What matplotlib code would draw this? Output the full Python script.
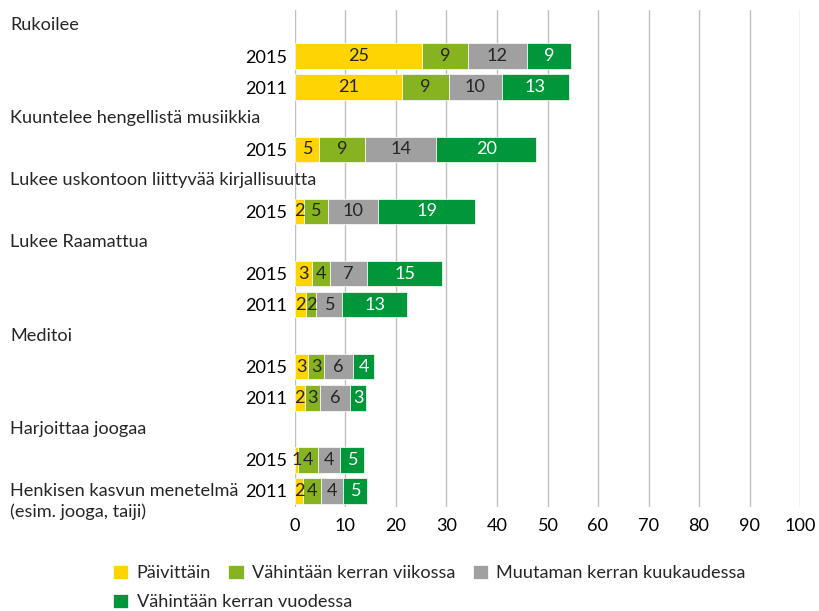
import numpy as np
import matplotlib
matplotlib.use('Agg')
import matplotlib.pyplot as plt
import matplotlib.transforms as mtransforms

plt.rcParams['font.family'] = ['Lato', 'DejaVu Sans']
plt.rcParams['font.size'] = 13.1
plt.rcParams['text.color'] = '#262626'

# group headers and the row (0 = top) where each one sits
headers = ['Rukoilee', 'Kuuntelee hengellistä musiikkia',
           'Lukee uskontoon liittyvää kirjallisuutta', 'Lukee Raamattua',
           'Meditoi', 'Harjoittaa joogaa']
header_rows = [0, 3, 5, 7, 10, 13]

# bars
years = ['2015', '2011', '2015', '2015', '2015', '2011', '2015', '2011', '2015', '2011']
bar_rows = [1, 2, 4, 6, 8, 9, 11, 12, 14, 15]
last_label = ['Henkisen kasvun menetelmä', '(esim. jooga, taiji)']

series_names = ['Päivittäin', 'Vähintään kerran viikossa',
                'Muutaman kerran kuukaudessa', 'Vähintään kerran vuodessa']
paivittain = [25.1, 21.1, 4.8, 1.7, 3.3, 2.1, 2.6, 1.9, 0.6, 1.6]
viikossa = [9.2, 9.4, 9.1, 4.8, 3.6, 2.1, 3.2, 3.0, 4.0, 3.6]
kuukaudessa = [11.6, 10.4, 14.0, 10.0, 7.3, 5.1, 5.7, 6.0, 4.4, 4.3]
vuodessa = [8.8, 13.4, 19.9, 19.1, 15.0, 12.9, 4.2, 3.2, 4.6, 4.75]

colors = ['#FFD400', '#86B31F', '#A0A0A0', '#00963A']
text_colors = ['#262626', '#262626', '#262626', 'white']

fig = plt.figure(figsize=(8.2, 6.11), dpi=100)
ax = fig.add_axes([295/820, 1 - 506.5/611, 505/820, 497/611])

series = [paivittain, viikossa, kuukaudessa, vuodessa]
left = np.zeros(len(bar_rows))
handles = []
for vals, c, tc, name in zip(series, colors, text_colors, series_names):
    vals = np.array(vals)
    bars = ax.barh(bar_rows, vals, left=left, height=0.82, color=c,
                   edgecolor='white', linewidth=0.5, zorder=3, label=name)
    handles.append(bars)
    for r, l, v in zip(bar_rows, left, vals):
        ax.text(l + v / 2, r, f'{v:.0f}', ha='center', va='center',
                color=tc, zorder=4)
    left += vals

ax.set_xlim(0, 100)
ax.set_ylim(15.5, -0.5)
ax.set_xticks(np.arange(0, 101, 10))
ax.set_yticks(bar_rows)
ax.set_yticklabels(years)
ax.tick_params(length=0, pad=6)
ax.tick_params(axis='x', pad=8)
ax.grid(axis='x', color='#BFBFBF', linewidth=1, zorder=0)
ax.set_axisbelow(True)
for s in ax.spines.values():
    s.set_visible(False)

# headers at the far left of the figure
trans = mtransforms.blended_transform_factory(fig.transFigure, ax.transData)
for h, r in zip(headers, header_rows):
    ax.text(10/820, r, h, transform=trans, ha='left', va='center', clip_on=False)
for i, line in enumerate(last_label):
    t2 = mtransforms.offset_copy(trans, fig=fig, y=-21 * i, units='dots')
    ax.text(10/820, bar_rows[-1], line, transform=t2, ha='left',
            va='center', clip_on=False)

leg_kw = dict(frameon=False, loc='center left', borderpad=0, borderaxespad=0,
              handlelength=0.85, handleheight=0.85, handletextpad=0.45)
fig.legend(handles[:3], series_names[:3], ncol=3, columnspacing=0.95,
           bbox_to_anchor=(113/820, 1 - 573/611), **leg_kw)
fig.legend(handles[3:], series_names[3:],
           bbox_to_anchor=(113/820, 1 - 602/611), **leg_kw)

fig.savefig('out.png', dpi=100)
